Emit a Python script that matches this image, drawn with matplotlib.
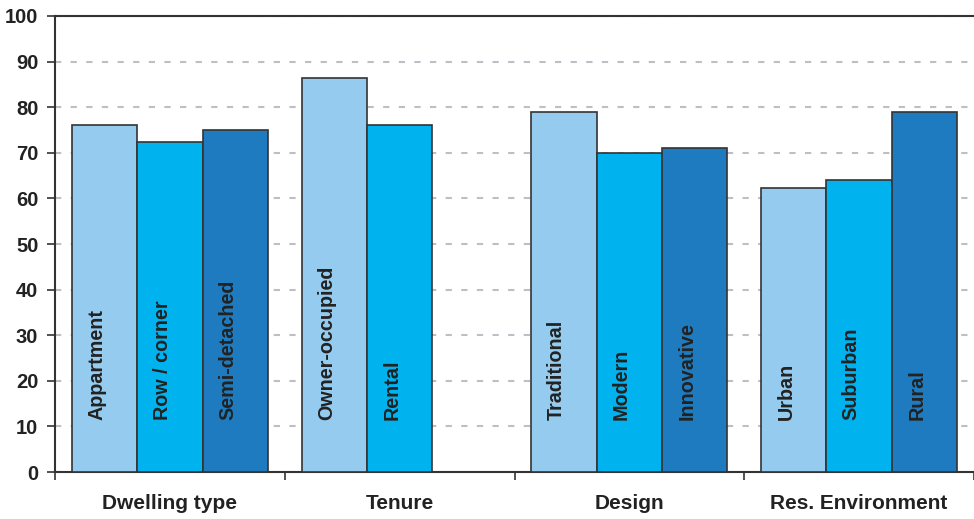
import numpy as np
import matplotlib.pyplot as plt

groups = ['Dwelling type', 'Tenure', 'Design', 'Res. Environment']
labels = [['Appartment', 'Row / corner', 'Semi-detached'],
          ['Owner-occupied', 'Rental'],
          ['Traditional', 'Modern', 'Innovative'],
          ['Urban', 'Suburban', 'Rural']]
values = [[76.2, 72.4, 75.0],
          [86.4, 76.2],
          [79.0, 70.0, 71.0],
          [62.3, 64.0, 79.0]]
colours = ['#95CBEE', '#00B2EE', '#1E7BBF']

plt.rcParams['font.family'] = ['Liberation Sans', 'DejaVu Sans']
plt.rcParams['font.weight'] = 'bold'

fig = plt.figure(figsize=(9.74, 5.19), dpi=100)
ax = fig.add_axes([55/974, 47/519, 1 - 55/974, (472-16)/519])

# each group is one unit wide, bars 66px of a 232px group
w = 66/232
for g in range(len(groups)):
    for k in range(len(values[g])):
        x = g + 17/232 + k*w
        ax.bar(x, values[g][k], width=w, align='edge', color=colours[k],
               edgecolor='#333333', linewidth=1.2, zorder=3)
        ax.text(x + w/2 - 0.034, 11.4, labels[g][k], rotation=90,
                ha='center', va='bottom', fontsize=14.2, fontweight='bold',
                color='#222222', zorder=4)

ax.set_ylim(0, 100)
ax.set_xlim(0, 919/232)
ax.set_yticks(np.arange(0, 101, 10))
ax.tick_params(axis='y', labelsize=14.5, length=6, width=1.2, color='#333333',
               pad=6, labelcolor='#222222')
ax.set_xticks(np.arange(0, 5))
ax.set_xticklabels([])
ax.set_xticks(np.arange(len(groups)) + 0.5, minor=True)
ax.set_xticklabels(groups, minor=True, fontsize=15, fontweight='bold',
                   color='#222222')
ax.tick_params(axis='x', which='major', length=6, width=1.2, color='#333333')
ax.tick_params(axis='x', which='minor', length=0, pad=16)

ax.yaxis.grid(True, color='#BEBEC8', linestyle=(0, (3, 4.5)), linewidth=1.5,
              zorder=0)
ax.set_axisbelow(True)
for s in ['left', 'bottom', 'top']:
    ax.spines[s].set_color('#333333')
    ax.spines[s].set_linewidth(1.5)
ax.spines['right'].set_visible(False)

plt.savefig('out.png', dpi=100)
